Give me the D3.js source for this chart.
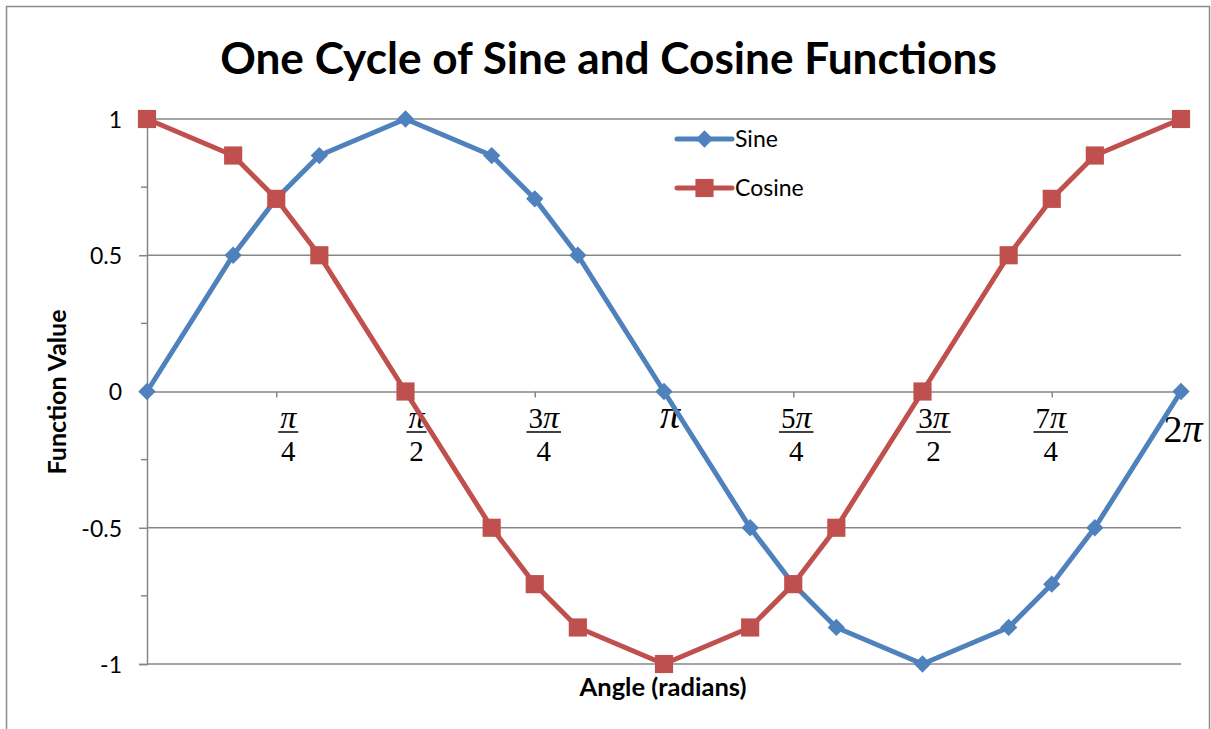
<!DOCTYPE html>
<html>
<head>
<meta charset="utf-8">
<script src="https://cdn.jsdelivr.net/npm/d3@7"></script>
<style>
  html, body { margin: 0; padding: 0; background: #fff; }
  svg { display: block; }
</style>
</head>
<body>
<svg id="chart" width="1211" height="729"></svg>
<script>
// ---- data ----
// angles in multiples of pi
const anglesInPi = [0, 1/6, 1/4, 1/3, 1/2, 2/3, 3/4, 5/6, 1, 7/6, 5/4, 4/3, 3/2, 5/3, 7/4, 11/6, 2];
const sineValues   = [0, 0.5, 0.707, 0.866, 1, 0.866, 0.707, 0.5, 0, -0.5, -0.707, -0.866, -1, -0.866, -0.707, -0.5, 0];
const cosineValues = [1, 0.866, 0.707, 0.5, 0, -0.5, -0.707, -0.866, -1, -0.866, -0.707, -0.5, 0, 0.5, 0.707, 0.866, 1];
const seriesNames = ["Sine", "Cosine"];
const yTicks = [-1, -0.5, 0, 0.5, 1];
const yTickLabels = ["-1", "-0.5", "0", "0.5", "1"];
const yMinorTicks = [-0.75, -0.25, 0.25, 0.75];
const xTickAnglesInPi = [1/4, 1/2, 3/4, 1, 5/4, 3/2, 7/4, 2];
const xTickNumerators   = ["π", "π", "3π", "π", "5π", "3π", "7π", "2π"];
const xTickDenominators = ["4", "2", "4", "", "4", "2", "4", ""];
const titleText = "One Cycle of Sine and Cosine Functions";
const yAxisTitle = "Function Value";
const xAxisTitle = "Angle (radians)";

// ---- layout / style ----
const labelNudge = [12, 11, 9, 6, 3, 11, -1, 2];
const colors = { Sine: "#4F81BD", Cosine: "#C0504D" };
const gridColor = "#878787";
const sans = "Lato, 'Open Sans', sans-serif";
const serif = "'Liberation Serif', 'DejaVu Serif', serif";

const svg = d3.select("#chart");

const x = d3.scaleLinear().domain([0, 2 * Math.PI]).range([147, 1181]);
const y = d3.scaleLinear().domain([-1, 1]).range([664, 119]);

function fitWidth(sel, base, target) {
  sel.attr("font-size", base);
  const w = sel.node().getComputedTextLength();
  sel.attr("font-size", base * target / w);
}

// outer border
svg.append("rect")
  .attr("x", 6.5).attr("y", 6.5).attr("width", 1203).attr("height", 760)
  .attr("fill", "none").attr("stroke", "#8c8c8c").attr("stroke-width", 1.5);

// title
const title = svg.append("text")
  .attr("x", 608.5).attr("y", 74)
  .attr("text-anchor", "middle")
  .attr("font-family", sans).attr("font-weight", "bold")
  .attr("fill", "#000")
  .text(titleText);
fitWidth(title, 42, 777);

// horizontal gridlines (non-zero)
svg.append("g").selectAll("line")
  .data(yTicks.filter(d => d !== 0))
  .join("line")
  .attr("x1", x(0)).attr("x2", x(2 * Math.PI))
  .attr("y1", d => y(d)).attr("y2", d => y(d))
  .attr("stroke", gridColor).attr("stroke-width", 1.5);

// y axis via d3 axis (major)
const yAxisG = svg.append("g")
  .attr("transform", `translate(${x(0)},0)`)
  .call(d3.axisLeft(y).tickValues(yTicks).tickSize(8)
    .tickFormat((d, i) => yTickLabels[i]).tickPadding(17));
yAxisG.select(".domain").attr("stroke", gridColor).attr("stroke-width", 1.5);
yAxisG.selectAll(".tick line").attr("stroke", gridColor).attr("stroke-width", 1.5);
yAxisG.selectAll(".tick text")
  .attr("font-family", sans).attr("font-size", 23).attr("fill", "#000")
  .attr("dy", "0.36em");

// y minor ticks
svg.append("g").selectAll("line")
  .data(yMinorTicks)
  .join("line")
  .attr("x1", x(0) - 6).attr("x2", x(0))
  .attr("y1", d => y(d)).attr("y2", d => y(d))
  .attr("stroke", gridColor).attr("stroke-width", 1.5);

// x axis at zero
const xTickVals = xTickAnglesInPi.map(a => a * Math.PI);
const xAxisG = svg.append("g")
  .attr("transform", `translate(0,${y(0)})`)
  .call(d3.axisBottom(x).tickValues(xTickVals.filter(v => v < 2 * Math.PI - 1e-9)).tickSize(6).tickFormat(""));
xAxisG.select(".domain").attr("stroke", gridColor).attr("stroke-width", 1.5);
xAxisG.selectAll(".tick line").attr("stroke", gridColor).attr("stroke-width", 1.5);

// x tick labels (math-style), each label one text element
const labG = svg.append("g");
xTickVals.forEach((v, i) => {
  const cx = x(v) + labelNudge[i];
  const num = xTickNumerators[i], den = xTickDenominators[i];
  const m = num.match(/^(\d*)(π)$/);
  const t = labG.append("text")
    .attr("text-anchor", "middle")
    .attr("font-family", serif).attr("fill", "#000");
  if (den) {
    t.attr("font-size", 29);
    const parts = [];
    if (m[1]) parts.push(t.append("tspan").attr("x", cx).attr("y", 428).text(m[1]));
    const p = t.append("tspan").attr("font-style", "italic").attr("font-size", 32).text(m[2]);
    if (!m[1]) p.attr("x", cx).attr("y", 428);
    parts.push(p);
    t.append("tspan").attr("x", cx).attr("y", 461).text(den);
    const w = d3.sum(parts, s => s.node().getComputedTextLength());
    labG.append("line")
      .attr("x1", cx - w / 2 - 2).attr("x2", cx + w / 2 + 2)
      .attr("y1", 432).attr("y2", 432)
      .attr("stroke", "#000").attr("stroke-width", 1.5);
  } else {
    t.attr("x", cx).attr("y", num.length > 1 ? 442 : 428).attr("font-size", 38);
    if (m[1]) t.append("tspan").text(m[1]);
    t.append("tspan").attr("font-style", "italic").attr("font-size", 40).text(m[2]);
  }
});

// axis titles
const yt = svg.append("text")
  .attr("transform", `translate(66,392) rotate(-90)`)
  .attr("text-anchor", "middle")
  .attr("font-family", sans).attr("font-weight", "bold")
  .text(yAxisTitle);
fitWidth(yt, 20, 165);
const xt = svg.append("text")
  .attr("x", 663).attr("y", 696)
  .attr("text-anchor", "middle")
  .attr("font-family", sans).attr("font-weight", "bold")
  .text(xAxisTitle);
fitWidth(xt, 20, 167);

// series
const series = [
  { name: seriesNames[0], values: sineValues, marker: "diamond" },
  { name: seriesNames[1], values: cosineValues, marker: "square" }
];
const line = d3.line().x(d => x(d[0] * Math.PI)).y(d => y(d[1]));
const diamond = d3.symbol().type(d3.symbolDiamond2).size(190);
const square = d3.symbol().type(d3.symbolSquare).size(330);

series.forEach(s => {
  const pts = anglesInPi.map((a, i) => [a, s.values[i]]);
  svg.append("path")
    .datum(pts)
    .attr("d", line)
    .attr("fill", "none")
    .attr("stroke", colors[s.name])
    .attr("stroke-width", 5)
    .attr("stroke-linejoin", "round")
    .attr("stroke-linecap", "round");
  svg.append("g").selectAll("path")
    .data(pts)
    .join("path")
    .attr("transform", d => `translate(${x(d[0] * Math.PI)},${y(d[1])})`)
    .attr("d", s.marker === "diamond" ? diamond : square)
    .attr("fill", colors[s.name]);
});

// legend
const legend = svg.append("g");
series.forEach((s, i) => {
  const ly = 139 + i * 49;
  legend.append("line")
    .attr("x1", 677).attr("x2", 732).attr("y1", ly).attr("y2", ly)
    .attr("stroke", colors[s.name]).attr("stroke-width", 5).attr("stroke-linecap", "round");
  legend.append("path")
    .attr("transform", `translate(704.5,${ly})`)
    .attr("d", s.marker === "diamond" ? diamond : square)
    .attr("fill", colors[s.name]);
  legend.append("text")
    .attr("x", 735).attr("y", ly).attr("dy", "0.36em")
    .attr("font-family", sans).attr("font-size", 23)
    .text(s.name);
});
</script>
</body>
</html>
